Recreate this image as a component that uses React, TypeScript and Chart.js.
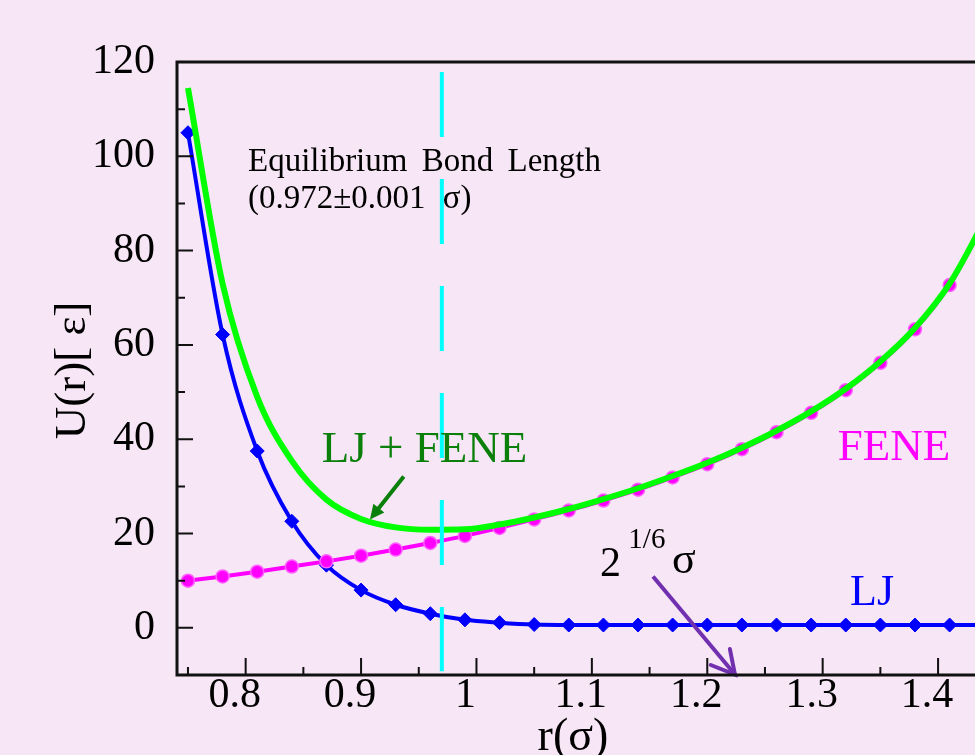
import React, { useEffect, useRef } from 'react';
import { Chart, registerables } from 'chart.js';

Chart.register(...registerables);

// ---- data ----
const rValues = [0.75, 0.78, 0.81, 0.84, 0.87, 0.9, 0.93, 0.96, 0.99, 1.02, 1.05, 1.08, 1.11, 1.14, 1.17, 1.2, 1.23, 1.26, 1.29, 1.32, 1.35, 1.38, 1.41, 1.44];
const ljValues = [105, 62.2, 37.5, 22.6, 13.3, 8.0, 4.9, 3.0, 1.7, 1.1, 0.7, 0.6, 0.6, 0.6, 0.6, 0.6, 0.6, 0.6, 0.6, 0.6, 0.6, 0.6, 0.6, 0.6];
const feneValues = [10.0, 10.9, 11.9, 13.0, 14.1, 15.3, 16.6, 18.0, 19.5, 21.2, 23.0, 24.9, 27.0, 29.3, 31.9, 34.7, 37.9, 41.5, 45.6, 50.4, 56.2, 63.3, 72.7, 85.9];
const totalValues = [114.5, 73.0, 49.0, 35.4, 27.2, 23.1, 21.3, 20.8, 20.9, 21.9, 23.4, 25.2, 27.3, 29.6, 32.2, 35.0, 38.2, 41.8, 45.9, 50.7, 56.5, 63.6, 73.0, 86.2];
const markerCount = 23;

const equilibriumR = 0.97;
const equilibriumSpan = [117.9, -9.2];

const xTickValues = [0.8, 0.9, 1.0, 1.1, 1.2, 1.3, 1.4];
const xTickLabels = ['0.8', '0.9', '1', '1.1', '1.2', '1.3', '1.4'];
const xMinorValues = [0.75, 0.85, 0.95, 1.05, 1.15, 1.25, 1.35];
const yTickValues = [0, 20, 40, 60, 80, 100, 120];
const yTickLabels = ['0', '20', '40', '60', '80', '100', '120'];
const yMinorValues = [10, 30, 50, 70, 90, 110];

const X_MIN = 0.7405;
const X_MAX = 1.432;
const Y_MIN = -10;
const Y_MAX = 120;

// annotation anchors in data units
const ANN = {
  eqLine1: { r: 0.802, u: 96.8, text: 'Equilibrium Bond Length' },
  eqLine2: { r: 0.802, u: 89.1, text: '(0.972\u00b10.001 \u03c3)' },
  ljFeneText: { r: 0.866, u: 35.1, text: 'LJ + FENE' },
  ljFeneArrow: { r1: 0.937, u1: 32.1, r2: 0.9077, u2: 23.0 },
  feneText: { r: 1.313, u: 35.7, text: 'FENE' },
  ljText: { r: 1.3237, u: 4.9, text: 'LJ' },
  two: { r: 1.107, u: 11.1, text: '2' },
  sixth: { r: 1.1316, u: 17.0, text: '1/6' },
  sigma: { r: 1.1694, u: 11.7, text: '\u03c3' },
  purpleArrow: { r1: 1.153, u1: 10.9, r2: 1.224, u2: -9.9 },
};

const SERIF = "'Liberation Serif', 'Times New Roman', serif";
const BG = '#f7e6f5';

function drawArrow(ctx: CanvasRenderingContext2D, x1: number, y1: number, x2: number, y2: number, color: string, width: number, head: number, filled: boolean) {
  const ang = Math.atan2(y2 - y1, x2 - x1);
  const spread = filled ? 0.45 : 0.5;
  ctx.save();
  ctx.strokeStyle = color;
  ctx.fillStyle = color;
  ctx.lineWidth = width;
  ctx.lineCap = 'butt';
  ctx.beginPath();
  const endX = filled ? x2 - Math.cos(ang) * head * 0.8 : x2;
  const endY = filled ? y2 - Math.sin(ang) * head * 0.8 : y2;
  ctx.moveTo(x1, y1);
  ctx.lineTo(endX, endY);
  ctx.stroke();
  const ax = x2 - head * Math.cos(ang - spread);
  const ay = y2 - head * Math.sin(ang - spread);
  const bx = x2 - head * Math.cos(ang + spread);
  const by = y2 - head * Math.sin(ang + spread);
  ctx.beginPath();
  if (filled) {
    ctx.moveTo(x2, y2);
    ctx.lineTo(ax, ay);
    ctx.lineTo(bx, by);
    ctx.closePath();
    ctx.fill();
  } else {
    ctx.lineCap = 'round';
    ctx.moveTo(ax, ay);
    ctx.lineTo(x2, y2);
    ctx.lineTo(bx, by);
    ctx.stroke();
  }
  ctx.restore();
}

const decorPlugin = {
  id: 'decor',
  beforeDraw(chart: any) {
    const { ctx, width, height } = chart;
    ctx.save();
    ctx.fillStyle = BG;
    ctx.fillRect(0, 0, width, height);
    ctx.restore();
  },
  afterDatasetsDraw(chart: any) {
    const { ctx } = chart;
    const xs = chart.scales.x;
    const ys = chart.scales.y;
    const px = (r: number) => xs.getPixelForValue(r);
    const py = (u: number) => ys.getPixelForValue(u);
    ctx.save();
    ctx.textBaseline = 'alphabetic';
    ctx.textAlign = 'left';

    // Equilibrium text
    ctx.fillStyle = '#000000';
    ctx.font = `33px ${SERIF}`;
    try { (ctx as any).wordSpacing = '6px'; } catch (e) {}
    ctx.fillText(ANN.eqLine1.text, px(ANN.eqLine1.r), py(ANN.eqLine1.u));
    try { (ctx as any).wordSpacing = '9px'; } catch (e) {}
    ctx.fillText(ANN.eqLine2.text, px(ANN.eqLine2.r), py(ANN.eqLine2.u));
    try { (ctx as any).wordSpacing = '0px'; } catch (e) {}

    // LJ + FENE
    ctx.fillStyle = '#0a800a';
    ctx.font = `45px ${SERIF}`;
    ctx.fillText(ANN.ljFeneText.text, px(ANN.ljFeneText.r), py(ANN.ljFeneText.u));
    drawArrow(ctx, px(ANN.ljFeneArrow.r1), py(ANN.ljFeneArrow.u1), px(ANN.ljFeneArrow.r2), py(ANN.ljFeneArrow.u2), '#0a800a', 4, 16, true);

    // FENE
    ctx.fillStyle = '#ff00ff';
    ctx.font = `45px ${SERIF}`;
    ctx.fillText(ANN.feneText.text, px(ANN.feneText.r), py(ANN.feneText.u));

    // LJ
    ctx.fillStyle = '#0000ff';
    ctx.font = `44px ${SERIF}`;
    ctx.fillText(ANN.ljText.text, px(ANN.ljText.r), py(ANN.ljText.u));

    // 2^(1/6) sigma
    ctx.fillStyle = '#000000';
    ctx.font = `42px ${SERIF}`;
    ctx.fillText(ANN.two.text, px(ANN.two.r), py(ANN.two.u));
    ctx.font = `29px ${SERIF}`;
    ctx.fillText(ANN.sixth.text, px(ANN.sixth.r), py(ANN.sixth.u));
    ctx.font = `44px ${SERIF}`;
    ctx.fillText(ANN.sigma.text, px(ANN.sigma.r), py(ANN.sigma.u));
    drawArrow(ctx, px(ANN.purpleArrow.r1), py(ANN.purpleArrow.u1), px(ANN.purpleArrow.r2), py(ANN.purpleArrow.u2), '#7030b0', 4, 26, false);
    ctx.restore();
  },
  afterDraw(chart: any) {
    const { ctx, chartArea } = chart;
    const xs = chart.scales.x;
    const ys = chart.scales.y;
    const { left, right, top, bottom } = chartArea;
    ctx.save();
    ctx.strokeStyle = '#111111';
    ctx.lineWidth = 3;
    ctx.lineCap = 'butt';
    ctx.beginPath();
    ctx.moveTo(left, top);
    ctx.lineTo(left, bottom);
    ctx.moveTo(left - 1.5, bottom);
    ctx.lineTo(right, bottom);
    ctx.moveTo(left - 1.5, top);
    ctx.lineTo(right, top);
    ctx.stroke();

    ctx.lineWidth = 2;
    ctx.beginPath();
    yTickValues.forEach((v) => {
      const y = ys.getPixelForValue(v);
      ctx.moveTo(left, y);
      ctx.lineTo(left + 16, y);
    });
    yMinorValues.forEach((v) => {
      const y = ys.getPixelForValue(v);
      ctx.moveTo(left, y);
      ctx.lineTo(left + 8, y);
    });
    xTickValues.forEach((v) => {
      const x = xs.getPixelForValue(v);
      ctx.moveTo(x, bottom);
      ctx.lineTo(x, bottom - 17);
    });
    xMinorValues.forEach((v) => {
      const x = xs.getPixelForValue(v);
      ctx.moveTo(x, bottom);
      ctx.lineTo(x, bottom - 8);
    });
    ctx.stroke();

    // axis titles
    ctx.fillStyle = '#000000';
    ctx.textAlign = 'center';
    ctx.textBaseline = 'alphabetic';
    ctx.font = `46px ${SERIF}`;
    ctx.fillText('r(\u03c3)', 573, 750);
    ctx.font = `45px ${SERIF}`;
    ctx.save();
    ctx.translate(85, (top + bottom) / 2 + 2);
    ctx.rotate(-Math.PI / 2);
    ctx.fillText('U(r)[ \u03b5]', 0, 0);
    ctx.restore();
    ctx.restore();
  },
};

export default function App() {
  const canvasRef = useRef<HTMLCanvasElement | null>(null);

  useEffect(() => {
    document.body.style.margin = '0';
    const canvas = canvasRef.current;
    if (!canvas) return;
    const pts = (vals: number[]) => rValues.map((r, i) => ({ x: r, y: vals[i] }));
    const markerRadius = (size: number) => (ctx: any) => (ctx.dataIndex < markerCount ? size : 0);

    const chart = new Chart(canvas, {
      type: 'line',
      data: {
        datasets: [
          {
            label: 'Equilibrium',
            data: [
              { x: equilibriumR, y: equilibriumSpan[0] },
              { x: equilibriumR, y: equilibriumSpan[1] },
            ],
            borderColor: '#00ffff',
            borderWidth: 4,
            borderDash: [65, 42],
            pointRadius: 0,
            fill: false,
          },
          {
            label: 'LJ + FENE',
            data: pts(totalValues),
            borderColor: '#00ff00',
            borderWidth: 6,
            pointRadius: 0,
            cubicInterpolationMode: 'monotone',
            fill: false,
          },
          {
            label: 'FENE',
            data: pts(feneValues),
            borderColor: '#ff00ff',
            backgroundColor: '#ff00ff',
            borderWidth: 4,
            pointStyle: 'circle',
            pointRadius: markerRadius(6.5),
            pointBorderColor: '#ff60ff',
            pointBorderWidth: 1.5,
            pointBackgroundColor: '#ff00ff',
            cubicInterpolationMode: 'monotone',
            fill: false,
          },
          {
            label: 'LJ',
            data: pts(ljValues),
            borderColor: '#0000ff',
            backgroundColor: '#0000ff',
            borderWidth: 4,
            pointStyle: 'rectRot',
            pointRadius: markerRadius(7),
            pointBorderColor: '#0000ff',
            pointBackgroundColor: '#0000ff',
            pointBorderWidth: 1,
            cubicInterpolationMode: 'monotone',
            fill: false,
          },
        ],
      },
      options: {
        animation: false,
        responsive: false,
        devicePixelRatio: 1,
        layout: { autoPadding: false, padding: { top: 62, right: 0, left: 0, bottom: 0 } },
        plugins: {
          legend: { display: false },
          tooltip: { enabled: false },
        },
        scales: {
          x: {
            type: 'linear',
            min: X_MIN,
            max: X_MAX,
            grid: { display: false, drawTicks: false, tickLength: 0 },
            border: { display: false },
            afterBuildTicks: (s: any) => {
              s.ticks = xTickValues.map((v) => ({ value: v }));
            },
            afterFit: (s: any) => {
              s.height = 80;
              s.paddingLeft = 0;
              s.paddingRight = 0;
            },
            ticks: {
              autoSkip: false,
              maxRotation: 0,
              padding: 0,
              labelOffset: -11,
              color: '#000000',
              font: { family: SERIF, size: 42, lineHeight: 1 },
              callback: (v: any) => {
                const i = xTickValues.findIndex((t) => Math.abs(t - Number(v)) < 1e-9);
                return i >= 0 ? xTickLabels[i] : '';
              },
            },
          },
          y: {
            type: 'linear',
            min: Y_MIN,
            max: Y_MAX,
            grid: { display: false, drawTicks: false, tickLength: 0 },
            border: { display: false },
            afterBuildTicks: (s: any) => {
              s.ticks = yTickValues.map((v) => ({ value: v }));
            },
            afterFit: (s: any) => {
              s.width = 177;
              s.paddingTop = 0;
              s.paddingBottom = 0;
            },
            ticks: {
              autoSkip: false,
              padding: 22,
              color: '#000000',
              font: { family: SERIF, size: 42, lineHeight: 1 },
              callback: (v: any) => {
                const i = yTickValues.indexOf(Number(v));
                return i >= 0 ? yTickLabels[i] : '';
              },
            },
          },
        },
      },
      plugins: [decorPlugin],
    } as any);

    return () => {
      chart.destroy();
    };
  }, []);

  return (
    <div style={{ position: 'fixed', left: 0, top: 0, width: 975, height: 755, overflow: 'hidden', background: BG }}>
      <canvas ref={canvasRef} width={975} height={755} style={{ display: 'block', width: 975, height: 755 }} />
    </div>
  );
}
